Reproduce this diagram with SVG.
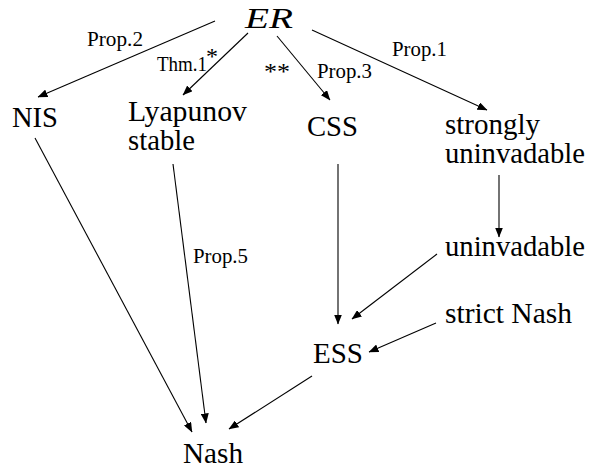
<svg xmlns="http://www.w3.org/2000/svg" width="591" height="470" viewBox="0 0 591 470">
<style>
text{font-family:"Liberation Serif","Times New Roman",Tinos,"DejaVu Serif","Noto Serif",serif;fill:#000}
.n{font-size:29px}
.l{font-size:20px}
.s{font-size:24px}
.er{font-style:italic;font-size:30px}
.e{stroke:#000;stroke-width:1.1;fill:none;marker-end:url(#ah)}
</style>
<defs>
<marker id="ah" markerUnits="userSpaceOnUse" markerWidth="10" markerHeight="8" viewBox="0 0 10 8" refX="9.5" refY="4" orient="auto">
<path d="M0,0 L10,4 L0,8 z" fill="#000"/>
</marker>
</defs>
<rect width="591" height="470" fill="#fff"/>
<g id="connectors">
<line class="e" x1="215" y1="21" x2="38" y2="97"/>
<line class="e" x1="248" y1="33" x2="183" y2="95"/>
<line class="e" x1="277" y1="36" x2="330" y2="100"/>
<line class="e" x1="312" y1="30" x2="487" y2="110"/>
<line class="e" x1="35" y1="138" x2="192" y2="432"/>
<line class="e" x1="173" y1="164" x2="206" y2="423"/>
<line class="e" x1="338" y1="164" x2="338" y2="324"/>
<line class="e" x1="499" y1="175" x2="499" y2="237"/>
<line class="e" x1="437" y1="254" x2="352" y2="319"/>
<line class="e" x1="436" y1="323" x2="369" y2="352"/>
<line class="e" x1="312" y1="376" x2="229" y2="429"/>
<text class="l" x="87" y="46" textLength="56" lengthAdjust="spacingAndGlyphs">Prop.2</text>
<text class="l" x="157" y="71" textLength="50" lengthAdjust="spacingAndGlyphs">Thm.1</text>
<text class="s" x="206" y="64">*</text>
<text class="s" x="264" y="79" textLength="26" lengthAdjust="spacingAndGlyphs">**</text>
<text class="l" x="317" y="78" textLength="55" lengthAdjust="spacingAndGlyphs">Prop.3</text>
<text class="l" x="392" y="56" textLength="55" lengthAdjust="spacingAndGlyphs">Prop.1</text>
<text class="l" x="193" y="263" textLength="55" lengthAdjust="spacingAndGlyphs">Prop.5</text>
</g>
<g id="ER"><text class="er" x="245" y="28" textLength="48" lengthAdjust="spacingAndGlyphs">ER</text></g>
<g id="NIS"><text class="n" x="12" y="127" textLength="46" lengthAdjust="spacingAndGlyphs">NIS</text></g>
<g id="Lyapunov"><text class="n" x="128" y="121" textLength="119" lengthAdjust="spacingAndGlyphs">Lyapunov</text><text class="n" x="128" y="150" textLength="67" lengthAdjust="spacingAndGlyphs">stable</text></g>
<g id="CSS"><text class="n" x="307" y="136" textLength="51" lengthAdjust="spacingAndGlyphs">CSS</text></g>
<g id="strongly"><text class="n" x="445" y="134" textLength="95" lengthAdjust="spacingAndGlyphs">strongly</text><text class="n" x="445" y="163" textLength="140" lengthAdjust="spacingAndGlyphs">uninvadable</text></g>
<g id="uninvadable"><text class="n" x="445" y="256" textLength="140" lengthAdjust="spacingAndGlyphs">uninvadable</text></g>
<g id="strictNash"><text class="n" x="445" y="323" textLength="127" lengthAdjust="spacingAndGlyphs">strict Nash</text></g>
<g id="ESS"><text class="n" x="313" y="363" textLength="50" lengthAdjust="spacingAndGlyphs">ESS</text></g>
<g id="Nash"><text class="n" x="183" y="463" textLength="60" lengthAdjust="spacingAndGlyphs">Nash</text></g>
</svg>
